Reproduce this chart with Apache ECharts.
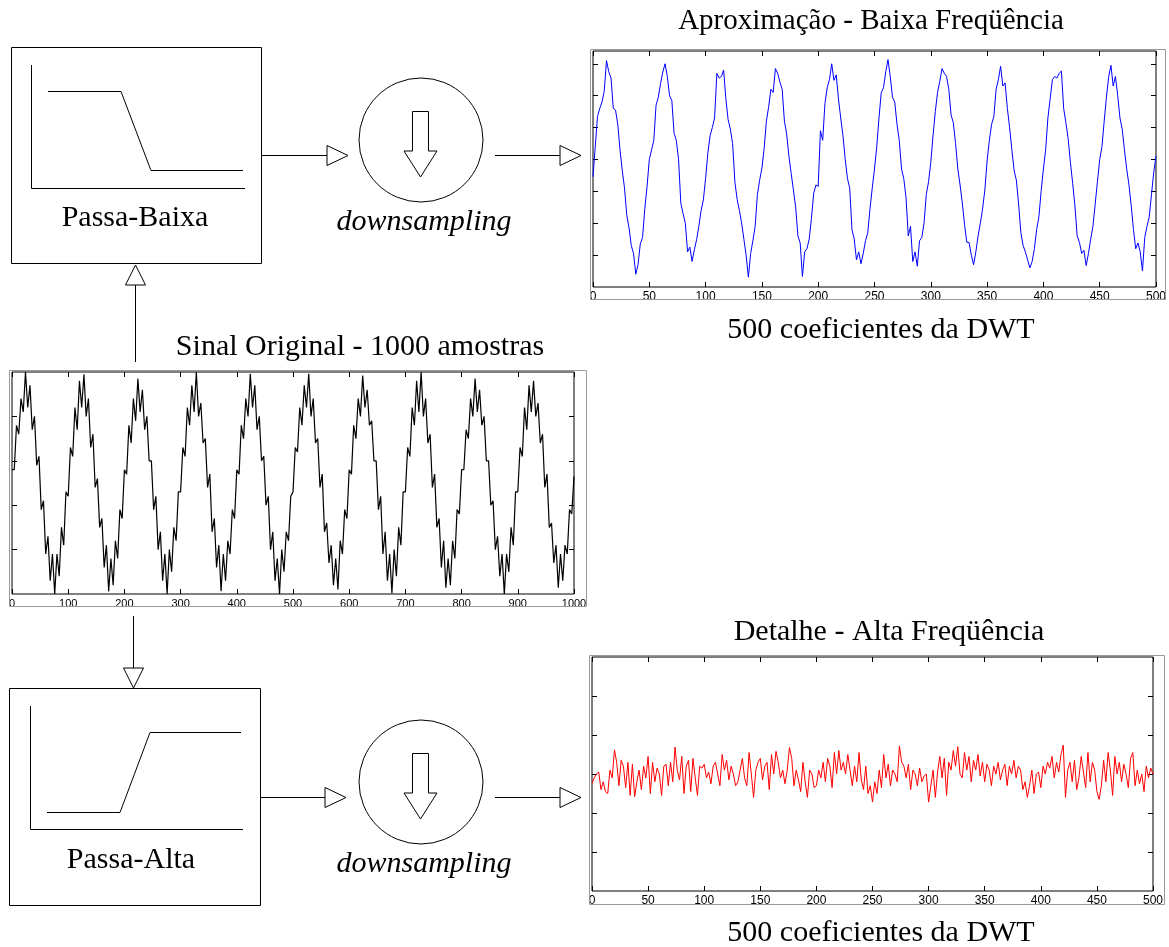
<!DOCTYPE html>
<html>
<head>
<meta charset="utf-8">
<script src="https://cdn.jsdelivr.net/npm/echarts@6/dist/echarts.min.js"></script>
<style>
html,body{margin:0;padding:0;background:#fff;}
#chart{width:1169px;height:947px;}
</style>
</head>
<body>
<div id="chart"></div>
<script>
// ---- Data ----
// Aproximação: 500 coeficientes, valores a cada 2 amostras (0..500)
const approxStep = 2;
const approxValues = [
 -0.54,0.4,1.35,1.6,1.8,2.15,3.1,2.75,2.55,1.6,1.55,1.1,0.3,-0.35,-0.9,-1.75,-2.15,-2.7,-2.95,-3.6,-3.3,-2.65,-2.45,-1.55,-0.85,
 0.0,0.3,0.6,1.7,1.95,2.38,2.74,3.0,2.6,2.0,1.85,0.82,0.6,0.0,-1.37,-1.7,-2.0,-2.9,-2.75,-3.2,-2.83,-2.52,-2.1,-1.6,-1.27,
 -0.6,0.2,0.75,1.0,1.3,2.7,2.55,2.6,2.8,1.9,1.25,0.95,0.5,-0.7,-1.25,-1.6,-2.0,-2.5,-3.0,-3.69,-2.95,-2.55,-2.1,-1.1,-0.65,
 -0.28,0.35,1.2,1.65,2.2,2.1,2.85,2.7,2.43,2.2,1.2,0.8,0.1,-0.44,-0.96,-1.5,-2.4,-2.62,-3.67,-2.9,-2.8,-2.5,-1.85,-1.06,-0.8,
 -0.85,0.9,0.6,1.75,2.25,2.5,3.0,2.48,2.65,1.9,1.3,0.75,0.0,-0.6,-0.9,-2.2,-2.5,-3.15,-2.9,-3.27,-2.95,-2.55,-2.3,-1.55,-0.9,
 -0.3,0.4,1.3,2.1,2.25,2.75,3.13,2.6,1.95,1.8,1.1,0.6,-0.3,-0.6,-1.2,-2.4,-2.1,-3.2,-2.9,-3.35,-2.55,-2.45,-2.0,-1.1,-0.7,
 -0.1,0.75,1.5,2.1,2.45,2.85,2.7,2.6,2.2,1.4,1.15,0.5,-0.3,-0.8,-1.37,-2.05,-2.6,-2.6,-3.0,-3.3,-2.9,-2.4,-2.0,-1.55,-0.96,
 -0.05,0.6,1.1,1.35,2.2,2.5,2.92,2.3,2.4,1.6,1.0,0.3,-0.35,-0.65,-1.4,-2.3,-2.7,-2.9,-3.15,-3.4,-3.2,-2.8,-2.2,-1.8,-1.0,
 -0.3,0.3,1.3,1.9,2.5,2.6,2.55,2.7,2.77,1.6,1.15,0.65,-0.1,-0.75,-1.45,-2.4,-2.6,-2.95,-2.85,-3.33,-2.95,-2.5,-2.1,-1.4,-0.7,
 0.0,0.4,1.2,1.95,2.6,2.95,2.3,2.6,2.0,1.3,0.95,0.3,-0.3,-0.8,-1.45,-2.2,-2.8,-2.62,-2.9,-3.5,-2.45,-2.1,-1.8,-1.1,-0.4,
 0.1
];
// Sinal original: 1000 amostras, valores a cada 4 amostras (0..1000)
const originalStep = 4;
const originalValues = [
 0.3,0.3,1.3,1.1,1.9,1.6,2.5,1.7,2.2,1.2,1.5,0.4,0.6,-0.6,-0.4,-1.6,-1.2,-2.2,-1.6,-2.5,-1.6,-2.1,-1.0,-1.4,-0.2,
 -0.3,0.8,0.6,1.7,1.2,2.3,1.7,2.45,1.5,1.9,0.8,1.1,-0.1,0.1,-1.0,-0.8,-1.9,-1.4,-2.44,-1.7,-2.3,-1.3,-1.7,-0.6,-0.8,
 0.3,0.2,1.3,0.9,1.9,1.4,2.35,1.6,2.1,1.2,1.5,0.5,0.5,-0.6,-0.3,-1.5,-1.1,-2.2,-1.6,-2.5,-1.5,-2.0,-1.0,-1.3,-0.2,
 -0.2,0.8,0.6,1.7,1.3,2.2,1.6,2.5,1.5,1.8,0.9,1.0,-0.1,0.2,-1.1,-0.8,-1.9,-1.4,-2.44,-1.6,-2.2,-1.3,-1.6,-0.6,-0.8,
 0.3,0.2,1.3,1.0,1.9,1.5,2.46,1.7,2.2,1.2,1.5,0.5,0.6,-0.5,-0.3,-1.5,-1.1,-2.2,-1.7,-2.5,-1.5,-2.0,-1.1,-1.3,-0.3,
 -0.2,0.8,0.7,1.7,1.3,2.2,1.7,2.46,1.5,1.9,0.9,1.0,-0.1,0.2,-1.1,-0.9,-1.8,-1.4,-2.3,-1.7,-2.4,-1.3,-1.6,-0.6,-0.8,
 0.3,0.2,1.3,1.0,1.9,1.5,2.42,1.7,2.1,1.3,1.4,0.5,0.5,-0.6,-0.3,-1.6,-1.1,-2.2,-1.6,-2.48,-1.5,-2.1,-1.0,-1.4,-0.2,
 -0.2,0.8,0.6,1.7,1.3,2.3,1.6,2.5,1.5,1.9,0.9,1.1,-0.1,0.2,-1.0,-0.8,-1.9,-1.3,-2.36,-1.7,-2.3,-1.3,-1.7,-0.6,-0.7,
 0.3,0.3,1.2,1.0,1.9,1.5,2.35,1.6,2.1,1.3,1.5,0.5,0.5,-0.5,-0.4,-1.5,-1.2,-2.1,-1.6,-2.5,-1.6,-2.0,-1.0,-1.4,-0.2,
 -0.2,0.8,0.6,1.7,1.2,2.2,1.6,2.3,1.5,1.8,0.9,1.1,-0.1,0.2,-1.0,-0.9,-1.8,-1.4,-2.36,-1.6,-2.2,-1.4,-1.6,-0.6,-0.7,
 0.15
];
// Detalhe: 500 coeficientes, valores a cada 2 amostras (0..500)
const detailStep = 2;
const detailValues = [
 -0.25,-0.1,0.0,0.05,-0.4,-0.2,-0.45,-0.5,0.1,-0.1,0.62,0.3,-0.3,0.35,0.2,-0.35,0.3,-0.55,0.25,-0.58,-0.2,0.1,-0.4,0.2,-0.1,
 0.45,-0.5,0.3,-0.2,0.15,0.0,-0.55,0.2,0.25,-0.3,0.3,-0.2,0.69,0.1,-0.15,0.45,-0.5,0.2,0.35,-0.45,0.4,-0.1,-0.55,0.2,0.15,
 0.25,-0.1,0.05,-0.25,0.2,0.3,0.0,-0.3,0.5,0.1,0.35,-0.15,0.2,0.0,-0.3,-0.2,0.1,0.4,-0.1,-0.3,0.55,0.0,-0.6,0.1,0.3,
 0.4,-0.15,0.2,0.3,-0.4,0.5,0.0,0.58,0.3,-0.1,0.1,-0.25,0.1,0.68,0.4,-0.3,0.1,-0.15,-0.45,0.3,-0.2,-0.6,0.1,0.0,-0.35,
 -0.3,0.1,-0.1,0.3,-0.2,0.4,0.2,-0.35,0.55,0.0,0.6,0.1,0.3,0.0,0.5,0.1,-0.3,0.2,-0.2,0.55,-0.15,-0.4,0.2,-0.5,-0.3,
 -0.72,-0.2,-0.5,0.1,-0.35,0.5,-0.1,0.25,-0.3,0.1,0.0,-0.2,0.72,0.3,0.2,-0.1,0.25,-0.4,0.1,0.0,-0.3,0.15,-0.2,-0.05,0.0,
 -0.72,-0.3,0.1,-0.6,0.05,0.45,-0.1,0.4,-0.55,0.3,0.1,0.6,0.2,0.7,0.0,-0.1,0.55,0.1,0.45,-0.2,0.35,0.1,0.5,-0.05,0.3,
 -0.2,0.25,0.1,-0.3,0.2,0.0,0.3,-0.15,0.1,0.25,-0.3,0.2,0.0,0.35,-0.1,0.2,0.1,-0.4,-0.2,-0.6,-0.3,0.1,-0.5,0.0,0.05,
 -0.35,0.2,0.0,0.3,0.15,0.45,-0.1,0.3,0.05,0.5,0.74,-0.6,0.1,0.3,-0.2,0.35,-0.4,-0.1,0.45,0.05,-0.35,0.55,-0.2,0.3,0.1,
 -0.45,-0.65,-0.3,0.35,-0.2,0.55,0.1,-0.55,0.45,0.0,0.3,-0.2,0.25,0.0,-0.35,0.4,0.55,-0.3,0.1,-0.25,0.0,-0.45,0.2,-0.1,0.15,
 0.0
];
// Tick values
const approxYTicks = [-3,-2,-1,0,1,2,3];
const originalYTicks = [-1.5,-0.5,0.5,1.5];
const detailYTicks = [-2,-1,0,1,2];
const xTicks500 = [0,50,100,150,200,250,300,350,400,450,500];
const xTicks1000 = [0,100,200,300,400,500,600,700,800,900,1000];

// Texts
const titleApprox = 'Aproximação - Baixa Freqüência';
const titleOriginal = 'Sinal Original - 1000 amostras';
const titleDetail = 'Detalhe - Alta Freqüência';
const captionCoef = '500 coeficientes da DWT';
const labelLow = 'Passa-Baixa';
const labelHigh = 'Passa-Alta';
const labelDown = 'downsampling';

function pairs(vals, step){ return vals.map((v,i)=>[i*step, v]); }

const chart = echarts.init(document.getElementById('chart'), null, {renderer:'canvas'});

function xAxes(gridIndex, max, ticks, fontSize){
  return ['bottom','top'].map(p=>({
    type:'value', gridIndex, position:p, min:0, max, interval: ticks[1]-ticks[0],
    axisLine:{show:false, onZero:false}, splitLine:{show:false},
    axisTick:{show:true, inside:true, length:5, lineStyle:{color:'#000'}},
    axisLabel:{show:p==='bottom', color:'#000', fontSize, fontFamily:'Liberation Sans', margin:4,
      customValues:ticks, formatter:(v)=>String(v)}
  }));
}
function yAxes(gridIndex, min, max, ticks){
  return ['left','right'].map(p=>({
    type:'value', gridIndex, position:p, min, max,
    axisLine:{show:false, onZero:false}, splitLine:{show:false},
    axisTick:{show:true, inside:true, length:5, customValues:ticks, lineStyle:{color:'#000'}},
    axisLabel:{show:false}
  }));
}

const serif = '"Liberation Serif", "Times New Roman", serif';
function txt(text, x, y, italic, size){
  return {type:'text', x, y, z:10, silent:true,
    style:{text, font:(italic?'italic ':'')+(size||30)+'px '+serif, fill:'#000',
      align:'center', verticalAlign:'middle', textAlign:'center', textVerticalAlign:'middle'}};
}
function pl(points, color){
  return {type:'polyline', z:10, silent:true, shape:{points}, style:{stroke:color||'#000', fill:null, lineWidth:1}};
}
function tri(points){
  return {type:'polygon', z:10, silent:true, shape:{points}, style:{stroke:'#000', fill:'#fff', lineWidth:1}};
}
function rect(x,y,w,h,color){
  return {type:'rect', z:9, silent:true, shape:{x,y,width:w,height:h}, style:{stroke:color||'#000', fill:'none', lineWidth:1}};
}
function hArrow(x1, x2, y){
  return [pl([[x1,y],[x2,y]]), tri([[x2,y-10],[x2+21,y],[x2,y+10]])];
}
function downBlock(cy){
  const d = cy - 140;
  return [
    {type:'circle', z:10, silent:true, shape:{cx:421, cy:cy, r:62}, style:{stroke:'#000', fill:'none', lineWidth:1}},
    tri([[412.5,111.5+d],[428.5,111.5+d],[428.5,151+d],[437,151+d],[420.5,177+d],[404,151+d],[412.5,151+d]])
  ];
}

const graphics = [
  rect(590.5, 49.5, 575, 250, '#9a9a9a'),
  rect(9.5, 370.5, 577, 236, '#9a9a9a'),
  rect(589.5, 655.5, 575, 249, '#9a9a9a'),
  rect(11.5, 47.5, 250, 216),
  rect(9.5, 688.5, 251, 217),
  pl([[31.5,65],[31.5,188.5],[245,188.5]]),
  pl([[48,91.5],[121,91.5],[151,170.5],[243,170.5]]),
  pl([[30.5,706],[30.5,829.5],[243,829.5]]),
  pl([[47,812.5],[120,812.5],[150,732.5],[241,732.5]]),
  ...hArrow(261.5, 327, 155.5),
  ...downBlock(140),
  ...hArrow(495, 560, 155.5),
  ...hArrow(260.5, 325, 797.5),
  ...downBlock(782),
  ...hArrow(495, 560, 797.5),
  pl([[135.5,285],[135.5,362]]),
  tri([[135.5,265],[125.5,285],[145.5,285]]),
  pl([[133.5,616],[133.5,668]]),
  tri([[123.5,668],[143.5,668],[133.5,688]]),
  txt(titleApprox, 871, 21, false, 29),
  txt(captionCoef, 881, 330),
  txt(titleOriginal, 360, 347),
  txt(titleDetail, 889, 632),
  txt(captionCoef, 881, 933),
  txt(labelLow, 135, 218),
  txt(labelHigh, 131, 860),
  txt(labelDown, 424, 222, true),
  txt(labelDown, 424, 864, true)
];

const option = {
  animation:false,
  backgroundColor:'#fff',
  grid:[
    {left:593, top:51, width:564, height:236, show:true, borderColor:'#000', borderWidth:1, backgroundColor:'transparent'},
    {left:12, top:372, width:562, height:222, show:true, borderColor:'#000', borderWidth:1, backgroundColor:'transparent'},
    {left:592, top:657, width:561, height:234, show:true, borderColor:'#000', borderWidth:1, backgroundColor:'transparent'}
  ],
  xAxis:[
    ...xAxes(0, 500, xTicks500, 12),
    ...xAxes(1, 1000, xTicks1000, 11),
    ...xAxes(2, 500, xTicks500, 12)
  ],
  yAxis:[
    ...yAxes(0, -4, 3.4, approxYTicks),
    ...yAxes(1, -2.5, 2.5, originalYTicks),
    ...yAxes(2, -3, 3, detailYTicks)
  ],
  series:[
    {type:'line', xAxisIndex:0, yAxisIndex:0, data:pairs(approxValues, approxStep), showSymbol:false, symbol:'none',
     lineStyle:{color:'#0000ff', width:1}, itemStyle:{color:'#0000ff'}, clip:true},
    {type:'line', xAxisIndex:2, yAxisIndex:2, data:pairs(originalValues, originalStep), showSymbol:false, symbol:'none',
     lineStyle:{color:'#000000', width:1.2}, itemStyle:{color:'#000'}, clip:true},
    {type:'line', xAxisIndex:4, yAxisIndex:4, data:pairs(detailValues, detailStep), showSymbol:false, symbol:'none',
     lineStyle:{color:'#ff0000', width:1}, itemStyle:{color:'#ff0000'}, clip:true}
  ],
  graphic:graphics
};
chart.setOption(option);
</script>
</body>
</html>
